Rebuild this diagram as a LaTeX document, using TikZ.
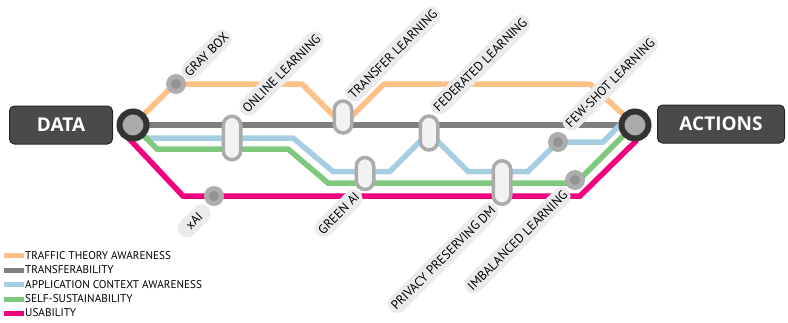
\documentclass[tikz,border=0pt]{standalone}
\usepackage{fontspec}
\setmainfont{PT Sans}
\newfontfamily\boxfont{Open Sans}
\usetikzlibrary{shapes.misc}
\definecolor{cOrange}{HTML}{FDC086}
\definecolor{cGray}{HTML}{7F7F7F}
\definecolor{cBlue}{HTML}{A6CEE3}
\definecolor{cGreen}{HTML}{7FC97F}
\definecolor{cPink}{HTML}{F0027F}
\definecolor{capGray}{HTML}{ABABAB}
\definecolor{capFill}{HTML}{F2F2F2}
\definecolor{pillFill}{HTML}{EBEBEB}
\definecolor{boxGray}{HTML}{4A4A4A}
\definecolor{termDark}{HTML}{333333}
\definecolor{termGray}{HTML}{ABABAB}
\definecolor{dotOut}{HTML}{ADADAD}
\definecolor{dotIn}{HTML}{939393}
\begin{document}
\begin{tikzpicture}[x=1pt,y=-1pt,
  metro/.style={line width=5.5pt},
  capsule/.style={rounded rectangle, draw=capGray, fill=capFill, line width=3.5pt,
    inner sep=0pt, rotate=90, minimum height=17.5pt},
  dotstop/.style={circle, fill=dotOut, minimum size=20pt, inner sep=0pt},
  pill/.style={rounded rectangle, fill=pillFill, rotate=45, inner xsep=2.5pt, inner ysep=0pt,
    minimum height=18.5pt, font=\fontsize{12.8}{13}\selectfont, text=black},
  endbox/.style={rectangle, rounded corners=5pt, fill=boxGray, draw=black!85, line width=1pt,
    text=white, font=\boxfont\bfseries\fontsize{19}{19}\selectfont, minimum height=38pt, inner sep=0pt},
  terminal/.style={circle, draw=termDark, line width=6pt, fill=termGray, minimum size=27pt, inner sep=0pt},
  legtext/.style={anchor=west, inner sep=0pt, font=\fontsize{11.2}{12}\selectfont, text=black},
  legbar/.style={line width=5pt}
]
\useasboundingbox (0,0) rectangle (788,322);

\coordinate (dc) at (133,125);
\coordinate (ac) at (635,125);

% metro lines
\draw[metro, cGray] (dc) -- (ac);
\draw[metro, cOrange] (dc) -- (175,84) -- (302,84) -- (343,125) -- (384,84) -- (590,84) -- (ac);
\draw[metro, cBlue] (dc) -- (146,138) -- (293,138) -- (333,171.5) -- (390,171.5) -- (429,132.5)
  -- (468,171.5) -- (528,171.5) -- (558,142) -- (603,142) -- (620,125) -- (ac);
\draw[metro, cGreen] (dc) -- (157,149) -- (288,149) -- (328,183) -- (576,183) -- (630,129) -- (ac);
\draw[metro, cPink] (119,128) -- (183,196) -- (580,196) -- (637,140);

% stations: capsules
\node[capsule, minimum width=43.5pt] (online) at (232,138) {};
\node[capsule, minimum width=32pt] (transfer) at (343,117) {};
\node[capsule, minimum width=34pt] (federated) at (429,133) {};
\node[capsule, minimum width=32pt] (greenai) at (365,173.5) {};
\node[capsule, minimum width=43.5pt] (privacy) at (502,182.5) {};

% stations: dots
\node[dotstop] (graybox) at (176,84) {};
\node[dotstop] (xai) at (214,196) {};
\node[dotstop] (fewshot) at (558,142) {};
\node[dotstop] (imbal) at (575,180) {};
\foreach \s in {graybox,xai,fewshot,imbal} \fill[dotIn] (\s) circle (5);

% terminals
\node[terminal] (dterm) at (dc) {};
\node[terminal] (aterm) at (ac) {};
\node[endbox, minimum width=103pt] (data) at (61,125) {DATA};
\node[endbox, minimum width=127pt] (actions) at (721,124) {ACTIONS};

% labels above
\node[pill, anchor=west] (lgraybox) at (184,77) {GRAY BOX};
\node[pill, anchor=west] (lonline) at (242,113) {ONLINE LEARNING};
\node[pill, anchor=west] (ltransfer) at (348,99) {TRANSFER LEARNING};
\node[pill, anchor=west] (lfederated) at (433,112) {FEDERATED LEARNING};
\node[pill, anchor=west] (lfewshot) at (565,128) {FEW-SHOT LEARNING};
% labels below
\node[pill, anchor=east, minimum width=44pt] (lxai) at (208,207) {xAI};
\node[pill, anchor=east] (lgreenai) at (360,192) {GREEN AI};
\node[pill, anchor=east] (lprivacy) at (496,205) {PRIVACY PRESERVING DM};
\node[pill, anchor=east] (limbal) at (568,190) {IMBALANCED LEARNING};

% legend
\node[legtext] (leg1) at (25,255.5) {TRAFFIC THEORY AWARENESS};
\node[legtext] (leg2) at (25,270) {TRANSFERABILITY};
\node[legtext] (leg3) at (25,284.5) {APPLICATION CONTEXT AWARENESS};
\node[legtext] (leg4) at (25,299) {SELF-SUSTAINABILITY};
\node[legtext] (leg5) at (25,313) {USABILITY};
\draw[legbar, cOrange] (leg1.west) ++(-1,0) -- ++(-20,0);
\draw[legbar, cGray] (leg2.west) ++(-1,0) -- ++(-20,0);
\draw[legbar, cBlue] (leg3.west) ++(-1,0) -- ++(-20,0);
\draw[legbar, cGreen] (leg4.west) ++(-1,0) -- ++(-20,0);
\draw[legbar, cPink] (leg5.west) ++(-1,0) -- ++(-20,0);
\end{tikzpicture}
\end{document}
